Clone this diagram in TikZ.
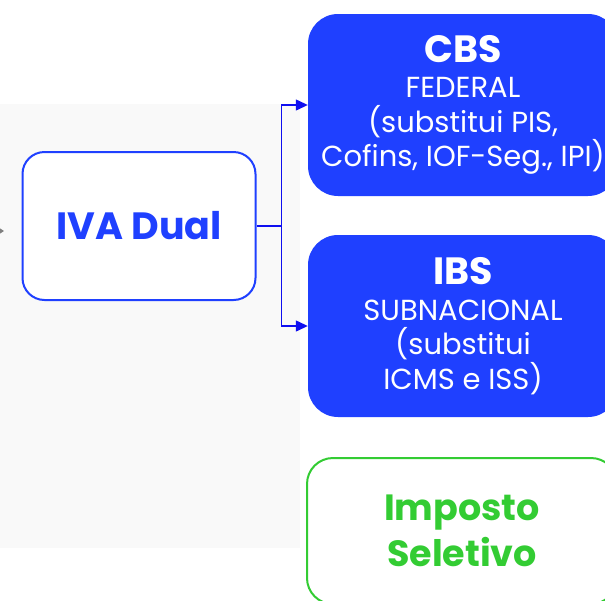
\documentclass[tikz,border=0pt]{standalone}
\usepackage{fontspec}
\setmainfont{Poppins}
\usetikzlibrary{arrows.meta}
\definecolor{boxblue}{RGB}{31,64,255}
\definecolor{linkblue}{RGB}{15,15,240}
\definecolor{selgreen}{RGB}{51,204,51}
\definecolor{bgshade}{RGB}{249,249,249}
\tikzset{
  mainbox/.style={draw=boxblue, line width=2pt, fill=white, rounded corners=22pt,
    minimum width=233pt, minimum height=148pt, inner sep=0pt, text=boxblue,
    font=\bfseries\fontsize{38}{40}\selectfont},
  taxbox/.style={fill=boxblue, rounded corners=30pt, minimum width=310pt,
    minimum height=182pt, inner sep=0pt, text=white, align=center,
    font=\fontsize{29}{34.5}\selectfont},
  selbox/.style={draw=selgreen, line width=2pt, fill=white, rounded corners=26pt,
    minimum width=310pt, minimum height=146pt, inner sep=0pt, text=selgreen,
    align=center, font=\bfseries\fontsize{36.5}{46}\selectfont},
  conn/.style={draw=linkblue, line width=1.3pt, -{Triangle[length=12pt,width=11pt]}},
  stub/.style={draw=gray, line width=0.8pt, -{Triangle[length=4pt,width=5pt]}}
}
\begin{document}
\begin{tikzpicture}[x=1pt,y=-1pt]
\useasboundingbox (0,0) rectangle (605,600);
\clip (0,0) rectangle (605,600);
\fill[white] (0,0) rectangle (605,600);
\fill[bgshade] (0,104) rectangle (300,548);
\node[mainbox] (iva) at (139,226) {IVA Dual};
\node[taxbox] (cbs) at (463,105) {{\bfseries\fontsize{38}{38}\selectfont CBS}\\[1pt]FEDERAL\\(substitui PIS,\\Cofins, IOF-Seg., IPI)};
\node[taxbox] (ibs) at (463,326) {{\bfseries\fontsize{38}{38}\selectfont IBS}\\[1pt]SUBNACIONAL\\(substitui\\ICMS e ISS)};
\node[selbox] (sel) at (462,531) {Imposto\\Seletivo};
\draw[conn] (iva.east) -- ++(25,0) coordinate (j) |- (cbs.west);
\draw[conn] (j) |- (ibs.west);
\coordinate (stubA) at (-10,231);
\coordinate (stubB) at (4,231);
\draw[stub] (stubA) -- (stubB);
\end{tikzpicture}
\end{document}
